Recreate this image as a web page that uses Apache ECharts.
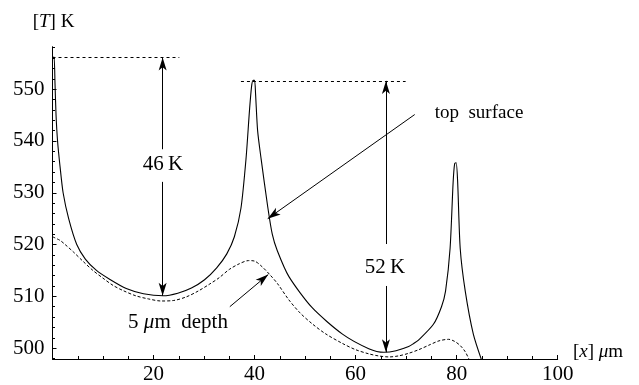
<!DOCTYPE html>
<html>
<head>
<meta charset="utf-8">
<script src="https://cdn.jsdelivr.net/npm/echarts@6/dist/echarts.min.js"></script>
<style>
  html, body { margin: 0; padding: 0; background: #fff; }
  #chart { width: 639px; height: 385px; }
</style>
</head>
<body>
<div id="chart"></div>
<script>
// temperature along the surface, [x in um, T in K]
const topSurface = [
  [0, 556.1], [0.3, 556.2], [0.5, 551], [0.7, 545], [1.0, 540], [1.5, 535], [2.1, 530],
  [3.2, 525], [4.8, 520], [6.5, 517.2], [8.7, 515], [11.3, 513.3], [14.6, 511.5],
  [18, 510.5], [21.9, 510.1], [24.8, 510.6], [27.5, 511.6], [30.1, 513.2], [32.5, 515.5],
  [34.5, 518.2], [36, 521.5], [37.3, 527], [38.3, 536.5], [39, 546], [39.4, 550.5],
  [39.7, 551.7], [40.0, 551.7], [40.2, 549], [40.6, 542], [41.3, 536.5], [42.6, 527.3],
  [43.5, 522], [44.5, 518.8], [46.8, 513.8], [51.4, 507.8], [57.4, 502.7], [62.6, 499.9],
  [65.6, 499.2], [68, 499.5], [70.5, 500.3], [71.5, 500.9], [72.5, 501.6], [75.4, 504.6],
  [77, 508], [77.8, 511], [78.7, 519.3], [79.3, 532], [79.6, 535.6], [79.9, 535.8],
  [80.2, 532], [80.7, 519.3], [81.7, 511], [83.3, 502.7], [85.0, 497.5]
];
// temperature 5 um below the surface
const depth5 = [
  [0, 521.5], [1.5, 520.8], [2.5, 520], [4.1, 518.6], [6, 516.8], [8, 515], [10, 513.5],
  [12, 512.1], [14, 511.1], [16.5, 510.1], [19, 509.5], [21.5, 509.1], [24, 509.2],
  [26.5, 509.9], [28.8, 511], [31, 512.3], [33, 513.6], [35, 515.2], [37, 516.3],
  [38.8, 516.9], [40, 516.8], [41.5, 515.7], [43, 514.2], [44.5, 512.5], [46.8, 509.3],
  [49, 506.8], [51.4, 504.7], [54, 502.8], [57.4, 500.9], [60, 499.7], [62.6, 498.9],
  [64.5, 498.5], [66.6, 498.3], [68.5, 498.5], [70.5, 499], [72.5, 499.7], [74.8, 500.7],
  [76.5, 501.4], [78.4, 501.7], [79.6, 501.3], [80.7, 500.5], [81.7, 499.3], [82.6, 497.5]
];

const xTicks = [20, 40, 60, 80, 100];
const yTicks = [500, 510, 520, 530, 540, 550];
const yMinor = [];
for (let v = 498; v <= 558; v += 2) yMinor.push(v);

// annotation geometry in data units
const peak1 = 556.1, min1 = 510.1, arrow1X = 21.8;
const peak2 = 551.6, min2 = 499.2, arrow2X = 66.0;

const chart = echarts.init(document.getElementById('chart'));

const serif = 'Liberation Serif';
const black = '#000';

function seg(a, b, endSymbol, dashed) {
  return [
    { coord: a, symbol: 'none' },
    {
      coord: b,
      symbol: endSymbol ? 'arrow' : 'none',
      symbolSize: [6, 13],
      lineStyle: dashed ? { type: [3, 3], width: 1 } : { type: 'solid', width: 1 }
    }
  ];
}

const option = {
  animation: false,
  backgroundColor: '#fff',
  grid: { left: 52.5, right: 81.3, top: 46.7, bottom: 23 },
  xAxis: {
    type: 'value',
    min: 0,
    max: 100,
    interval: 20,
    splitLine: { show: false },
    axisLine: { onZero: false, lineStyle: { color: black, width: 1 } },
    axisTick: { inside: true, length: 4, lineStyle: { color: black } },
    minorTick: { show: true, splitNumber: 4, length: 3, lineStyle: { color: black } },
    axisLabel: {
      customValues: xTicks,
      color: black,
      fontFamily: serif,
      fontSize: 21,
      margin: 5
    }
  },
  yAxis: [
    {
      type: 'value',
      min: 497.9,
      max: 558.2,
      splitLine: { show: false },
      axisLine: { show: true, lineStyle: { color: black, width: 1 } },
      axisTick: { inside: true, length: 4, customValues: yTicks, lineStyle: { color: black } },
      axisLabel: {
        customValues: yTicks,
        color: black,
        fontFamily: serif,
        fontSize: 21,
        margin: 8
      }
    },
    {
      type: 'value',
      min: 497.9,
      max: 558.2,
      position: 'left',
      splitLine: { show: false },
      axisLine: { show: false },
      axisLabel: { show: false },
      axisTick: { show: true, inside: true, length: 2.5, customValues: yMinor, lineStyle: { color: black } }
    }
  ],
  series: [
    {
      name: 'top surface',
      type: 'line',
      data: topSurface,
      showSymbol: false,
      smooth: 0.25,
      clip: true,
      lineStyle: { color: black, width: 1.1 },
      markLine: {
        silent: true,
        animation: false,
        symbol: 'none',
        label: { show: false },
        lineStyle: { color: black, width: 1, type: 'solid' },
        data: [
          seg([0, peak1], [25.1, peak1], false, true),
          seg([37.3, peak2], [69.9, peak2], false, true),
          seg([arrow1X, 538.4], [arrow1X, peak1], true),
          seg([arrow1X, 532.1], [arrow1X, min1], true),
          seg([arrow2X, 520.1], [arrow2X, peak2], true),
          seg([arrow2X, 512.0], [arrow2X, min2], true),
          seg([71.7, 545.1], [42.6, 525.0], true),
          seg([35.1, 508.0], [42.7, 514.2], true)
        ]
      }
    },
    {
      name: '5 um depth',
      type: 'line',
      data: depth5,
      showSymbol: false,
      smooth: 0.3,
      clip: true,
      lineStyle: { color: black, width: 1, type: [3, 2] }
    }
  ],
  graphic: [
    {
      type: 'text', x: 53.5, y: 22, z: 100,
      style: {
        text: '[{i|T}] K', align: 'center', verticalAlign: 'middle',
        font: '19px ' + serif, fill: black,
        rich: { i: { fontStyle: 'italic', fontFamily: serif, fontSize: 19 } }
      }
    },
    {
      type: 'text', x: 598, y: 352, z: 100,
      style: {
        text: '[{i|x}] {i|\u03bc}m', align: 'center', verticalAlign: 'middle',
        font: '19px ' + serif, fill: black,
        rich: { i: { fontStyle: 'italic', fontFamily: serif, fontSize: 19 } }
      }
    },
    {
      type: 'text', x: 163, y: 164, z: 100,
      style: { text: '46\u2009K', align: 'center', verticalAlign: 'middle', font: '21px ' + serif, fill: black }
    },
    {
      type: 'text', x: 385, y: 267, z: 100,
      style: { text: '52\u2009K', align: 'center', verticalAlign: 'middle', font: '21px ' + serif, fill: black }
    },
    {
      type: 'text', x: 479, y: 113, z: 100,
      style: { text: 'top  surface', align: 'center', verticalAlign: 'middle', font: '19px ' + serif, fill: black }
    },
    {
      type: 'text', x: 178, y: 322, z: 100,
      style: {
        text: '5 {i|\u03bc}m  depth', align: 'center', verticalAlign: 'middle',
        font: '21px ' + serif, fill: black,
        rich: { i: { fontStyle: 'italic', fontFamily: serif, fontSize: 21 } }
      }
    }
  ]
};

chart.setOption(option);
</script>
</body>
</html>
